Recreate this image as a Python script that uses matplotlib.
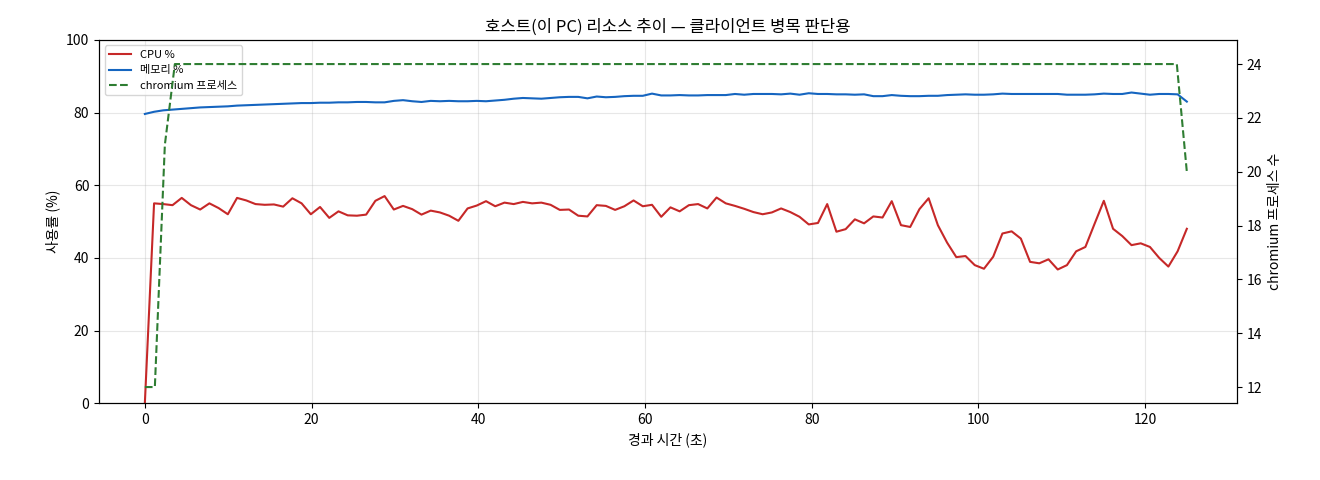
import numpy as np
import matplotlib
matplotlib.use("Agg")
import matplotlib.pyplot as plt

plt.rcParams['font.family'] = ['Noto Sans CJK KR', 'DejaVu Sans']

cpu = [0, 55, 54.8, 54.5, 56.5, 54.5, 53.3, 55, 53.7, 52, 56.5, 55.8, 54.8, 54.6, 54.7, 54.1,
       56.4, 55, 52, 54, 51, 52.8, 51.7, 51.6, 51.9, 55.7, 57, 53.3, 54.3, 53.4, 51.9, 53,
       52.5, 51.6, 50.2, 53.6, 54.4, 55.6, 54.2, 55.2, 54.8, 55.4, 55.0, 55.2, 54.6, 53.2,
       53.3, 51.6, 51.4, 54.5, 54.3, 53.2, 54.2, 55.8, 54.2, 54.6, 51.3, 53.9, 52.8, 54.5,
       54.8, 53.6, 56.6, 55, 54.3, 53.5, 52.6, 52, 52.5, 53.6, 52.6, 51.3, 49.2, 49.6, 54.8,
       47.2, 47.9, 50.6, 49.5, 51.4, 51.1, 55.6, 49, 48.5, 53.4, 56.4, 49, 44.2, 40.2, 40.5,
       38, 37, 40.3, 46.7, 47.3, 45.3, 38.9, 38.5, 39.6, 36.8, 38, 41.8, 43, 49.4, 55.7, 48,
       46, 43.5, 44, 43, 40, 37.6, 41.8, 48]
mem = [79.6, 80.2, 80.6, 80.8, 81.0, 81.2, 81.4, 81.5, 81.6, 81.7, 81.9, 82.0, 82.1, 82.2,
       82.3, 82.4, 82.5, 82.6, 82.6, 82.7, 82.7, 82.8, 82.8, 82.9, 82.9, 82.8, 82.8, 83.2,
       83.4, 83.1, 82.9, 83.2, 83.1, 83.2, 83.1, 83.1, 83.2, 83.1, 83.3, 83.5, 83.8, 84.0,
       83.9, 83.8, 84.0, 84.2, 84.3, 84.3, 83.9, 84.4, 84.2, 84.3, 84.5, 84.6, 84.6, 85.2,
       84.7, 84.7, 84.8, 84.7, 84.7, 84.8, 84.8, 84.8, 85.1, 84.9, 85.1, 85.1, 85.1, 85.0,
       85.2, 84.9, 85.3, 85.1, 85.1, 85.0, 85.0, 84.9, 85.0, 84.5, 84.5, 84.8, 84.6, 84.5,
       84.5, 84.6, 84.6, 84.8, 84.9, 85.0, 84.9, 84.9, 85.0, 85.2, 85.1, 85.1, 85.1, 85.1,
       85.1, 85.1, 84.9, 84.9, 84.9, 85.0, 85.2, 85.1, 85.1, 85.5, 85.2, 84.9, 85.1, 85.1,
       84.8, 83.0, 83.0, 83.0, 83.0, 83.0, 83.0, 83.0]
mem = mem[:len(cpu)]
mem[-1] = 83.0
mem[-2] = 85.0
mem[-3] = 85.1
time_s = np.linspace(0, 125, len(cpu))

proc_t = [0, 1.2, 2.4, 3.6, 123.8, 125]
proc = [12, 12, 21, 24, 24, 20]

fig, ax = plt.subplots(figsize=(13.2, 4.8), dpi=100)
l1, = ax.plot(time_s, cpu, color='#c62828', lw=1.5, label='CPU %')
l2, = ax.plot(time_s, mem, color='#1565c0', lw=1.5, label='메모리 %')
ax.set_ylim(0, 100)
ax.set_xlim(-5.5, 131)
ax.set_xlabel('경과 시간 (초)')
ax.set_ylabel('사용률 (%)')
ax.grid(True, alpha=0.3)
ax2 = ax.twinx()
l3, = ax2.plot(proc_t, proc, color='#2e7d32', lw=1.5, ls='--', label='chromium 프로세스')
ax2.set_ylim(11.4, 24.9)
ax2.set_ylabel('chromium 프로세스 수')
ax.set_title('호스트(이 PC) 리소스 추이 — 클라이언트 병목 판단용')
ax.legend(handles=[l1, l2, l3], loc='upper left', fontsize=8)
fig.subplots_adjust(left=0.075, right=0.937, top=0.917, bottom=0.16)
fig.savefig('out.png')
